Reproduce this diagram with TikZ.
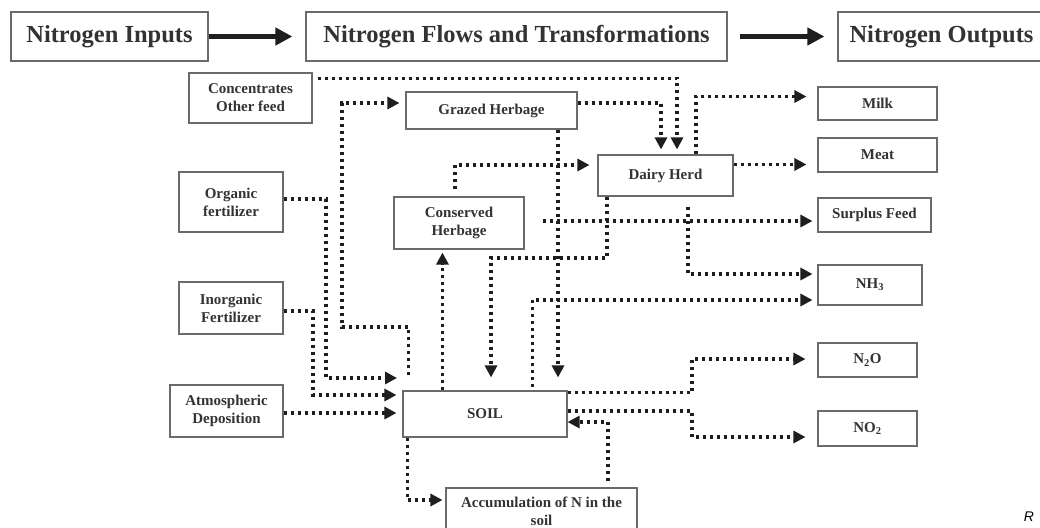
\documentclass[tikz,border=0pt]{standalone}
\usepackage{fontspec}
\setmainfont{Liberation Serif}
\setsansfont{Liberation Sans}
\usetikzlibrary{arrows.meta,calc}
\definecolor{boxline}{HTML}{6A6A6A}
\definecolor{txt}{HTML}{333333}
\definecolor{dotc}{HTML}{1E1E1E}
\begin{document}
\begin{tikzpicture}[x=1pt,y=-1pt,
  hdr/.style={draw=boxline, line width=1.2pt, minimum height=49pt, text=txt,
    font=\fontsize{24.5}{28}\selectfont\bfseries, inner sep=0pt},
  box/.style={draw=boxline, line width=1.1pt, text=txt,
    font=\fontsize{15}{18}\selectfont\bfseries, align=center, inner sep=0pt},
  flow/.style={draw=dotc, line width=3.6pt, dash pattern=on 3.2pt off 3.8pt,
    -{Triangle[length=12pt,width=12pt]}},
  bigarrow/.style={draw=dotc, line width=5.5pt, -{Triangle[length=17pt,width=17pt]}}]
\fill[white] (0,0) rectangle (1040,527);
\useasboundingbox (0,0) rectangle (1040,527);
% headers
\node[hdr, minimum width=197pt] (inp) at (109.5,36.5) {Nitrogen Inputs};
\node[hdr, minimum width=421pt] (flows) at (516.5,36.5) {Nitrogen Flows and Transformations};
\node[hdr, minimum width=207pt] (outp) at (941.5,36.5) {Nitrogen Outputs};
\draw[bigarrow, shorten >=13pt] (inp.east) -- (flows.west);
\draw[bigarrow, shorten <=12pt, shorten >=13pt] (flows.east) -- (outp.west);
% boxes
\node[box, minimum width=123pt, minimum height=50pt] (conc) at (250.5,98) {Concentrates\\Other feed};
\node[box, minimum width=171pt, minimum height=37pt] (grazed) at (491.5,110.5) {Grazed Herbage};
\node[box, minimum width=135pt, minimum height=41pt] (dairy) at (665.5,175.5) {Dairy Herd};
\node[box, minimum width=104pt, minimum height=60pt] (orgf) at (231,202) {Organic\\fertilizer};
\node[box, minimum width=130pt, minimum height=52pt] (cons) at (459,223) {Conserved\\Herbage};
\node[box, minimum width=104pt, minimum height=52pt] (inorg) at (231,308) {Inorganic\\Fertilizer};
\node[box, minimum width=113pt, minimum height=52pt] (atm) at (226.5,411) {Atmospheric\\Deposition};
\node[box, minimum width=164pt, minimum height=46pt] (soil) at (485,414) {SOIL};
\node[box, minimum width=191pt, minimum height=46pt] (accum) at (541.5,511) {Accumulation of N in the\\soil};
\node[box, minimum width=119pt, minimum height=33pt] (milk) at (877.5,103.5) {Milk};
\node[box, minimum width=119pt, minimum height=34pt] (meat) at (877.5,155) {Meat};
\node[box, minimum width=113pt, minimum height=34pt] (surplus) at (874.5,215) {Surplus Feed};
\node[box, minimum width=104pt, minimum height=40pt] (nh3) at (870,285) {NH\textsubscript{3}};
\node[box, minimum width=99pt, minimum height=34pt] (n2o) at (867.5,360) {N\textsubscript{2}O};
\node[box, minimum width=99pt, minimum height=35pt] (no2) at (867.5,428.5) {NO\textsubscript{2}};
\node[font=\sffamily\itshape\fontsize{14}{16}\selectfont, text=black, inner sep=0pt] (rlab) at (1029,517) {R};
% helper coordinates
\coordinate (b1) at (342,327);
\coordinate (b2) at (326,378);
\coordinate (o1) at (397,378);
\coordinate (b3) at (313,395);
\coordinate (a1) at ($(atm.east)+(0,2)$);
\coordinate (s0) at ($(soil.north west)+(6,-15)$);
\coordinate (s1) at ($(soil.north west)+(40,0)$);
\coordinate (c1) at ($(cons.north)+(-4,-7)$);
\coordinate (g1) at ($(grazed.south)+(66.5,0)$);
\coordinate (d1) at ($(dairy.south)+(-58.5,0)$);
\coordinate (d2) at (491,258);
\coordinate (c2) at ($(cons.east)+(18,-2)$);
\coordinate (d3) at ($(dairy.south)+(22.5,10)$);
\coordinate (s2) at ($(soil.north west)+(130,-3)$);
\coordinate (d4) at ($(dairy.north)+(30.5,0)$);
\coordinate (d5) at ($(dairy.east)+(0,-11)$);
\coordinate (s3) at ($(soil.north east)+(0,2)$);
\coordinate (s4) at (692,359);
\coordinate (s5) at ($(soil.east)+(0,-3)$);
\coordinate (s6) at (692,437);
\coordinate (s7) at ($(soil.south west)+(5,0)$);
\coordinate (a2) at ($(accum.north)+(66.5,-6)$);
% flows
\draw[flow, shorten >=5pt] ($(conc.north east)+(5,6)$) -| ($(dairy.north)+(11.5,0)$);
\draw[flow, shorten >=5pt] ($(grazed.east)+(0,-7.5)$) -| ($(dairy.north)+(-4.5,0)$);
\draw[flow, shorten >=6pt] (s0) |- (b1) |- ($(grazed.west)+(0,-7.5)$);
\draw[flow] ($(orgf.east)+(0,-3)$) -| (b2) -- (o1);
\draw[flow, shorten >=6pt] ($(inorg.east)+(0,3)$) -| (b3) -- (b3 -| soil.west);
\draw[flow, shorten >=6pt] (a1) -- (a1 -| soil.west);
\draw[flow, shorten >=3pt] (s1) -- (s1 |- cons.south);
\draw[flow, shorten >=8pt] (c1) |- ($(dairy.west)+(0,-10.5)$);
\draw[flow, shorten >=13pt] (g1) -- (g1 |- soil.north);
\draw[flow, shorten >=13pt] (d1) |- (d2) -- (d2 |- soil.north);
\draw[flow, shorten >=5pt] (c2) -- (c2 -| surplus.west);
\draw[flow, shorten >=5pt] (d3) |- ($(nh3.west)+(0,-11)$);
\draw[flow, shorten >=5pt] (s2) |- ($(nh3.west)+(0,15)$);
\draw[flow, shorten >=11pt] (d4) |- ($(milk.west)+(0,-7)$);
\draw[flow, shorten >=11pt] (d5) -- (d5 -| meat.west);
\draw[flow, shorten >=12pt] (s3) -| (s4) -- (s4 -| n2o.west);
\draw[flow, shorten >=12pt] (s5) -| (s6) -- (s6 -| no2.west);
\draw[flow, shorten >=3pt] (s7) |- ($(accum.west)+(0,-11)$);
\draw[flow] (a2) |- ($(soil.east)+(0,8)$);
\end{tikzpicture}
\end{document}
